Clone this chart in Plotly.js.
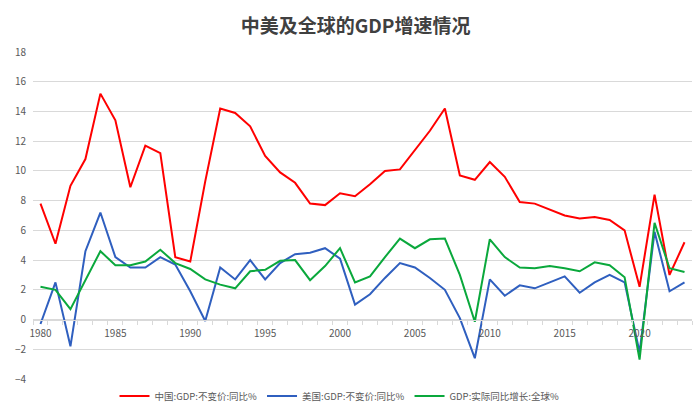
<!DOCTYPE html>
<html>
<head>
<meta charset="utf-8">
<script src="https://cdn.plot.ly/plotly-3.0.1.min.js"></script>
<style>
  html, body { margin: 0; padding: 0; background: #ffffff; }
  #chart { width: 700px; height: 413px; }
</style>
</head>
<body>
<div id="chart"></div>
<script>
// 中美及全球 GDP 增速
const years = [];
for (let y = 1980; y <= 2023; y++) years.push(y);

const chinaGdp = [7.8, 5.1, 9.0, 10.8, 15.2, 13.4, 8.9, 11.7, 11.2, 4.2,
  3.9, 9.3, 14.2, 13.9, 13.0, 11.0, 9.9, 9.2, 7.8, 7.7,
  8.5, 8.3, 9.1, 10.0, 10.1, 11.4, 12.7, 14.2, 9.7, 9.4,
  10.6, 9.6, 7.9, 7.8, 7.4, 7.0, 6.8, 6.9, 6.7, 6.0,
  2.2, 8.4, 3.0, 5.2];

const usGdp = [-0.3, 2.5, -1.8, 4.6, 7.2, 4.2, 3.5, 3.5, 4.2, 3.7,
  1.9, -0.1, 3.5, 2.7, 4.0, 2.7, 3.8, 4.4, 4.5, 4.8,
  4.1, 1.0, 1.7, 2.8, 3.8, 3.5, 2.8, 2.0, 0.1, -2.6,
  2.7, 1.6, 2.3, 2.1, 2.5, 2.9, 1.8, 2.5, 3.0, 2.5,
  -2.2, 5.9, 1.9, 2.5];

const worldGdp = [2.2, 2.0, 0.7, 2.6, 4.6, 3.65, 3.65, 3.9, 4.7, 3.8,
  3.4, 2.7, 2.35, 2.1, 3.25, 3.35, 3.95, 4.0, 2.65, 3.6,
  4.8, 2.5, 2.9, 4.2, 5.45, 4.8, 5.4, 5.45, 3.0, -0.15,
  5.4, 4.2, 3.5, 3.45, 3.6, 3.45, 3.25, 3.85, 3.65, 2.85,
  -2.7, 6.5, 3.45, 3.2];

const seriesNames = ["中国:GDP:不变价:同比%", "美国:GDP:不变价:同比%", "GDP:实际同比增长:全球%"];
const xLabels = [1980, 1985, 1990, 1995, 2000, 2005, 2010, 2015, 2020];

const font = '"Noto Sans CJK SC", "Noto Sans", sans-serif';

const china = {
  x: years, y: chinaGdp, type: "scatter", mode: "lines",
  name: seriesNames[0],
  line: { color: "#ff0000", width: 2 },
};
const us = {
  x: years, y: usGdp, type: "scatter", mode: "lines",
  name: seriesNames[1],
  line: { color: "#2f5fbf", width: 2 },
};
const world = {
  x: years, y: worldGdp, type: "scatter", mode: "lines",
  name: seriesNames[2],
  line: { color: "#0aa83c", width: 2 },
};

const layout = {
  width: 700,
  height: 413,
  margin: { t: 52, l: 33, r: 8, b: 34 },
  paper_bgcolor: "#ffffff",
  plot_bgcolor: "#ffffff",
  font: { family: font, color: "#595959" },
  title: {
    text: "中美及全球的GDP增速情况",
    font: { family: font, size: 19, color: "#404040", weight: "bold" },
    x: 0.508, xanchor: "center",
    y: 0.935, yanchor: "middle",
  },
  showlegend: true,
  legend: {
    orientation: "h",
    xref: "container", yref: "container",
    x: 0.485, xanchor: "center",
    y: 0.041, yanchor: "middle",
    font: { family: font, size: 9.5, color: "#595959" },
    itemwidth: 30,
    tracegroupgap: 0,
  },
  xaxis: {
    range: [1979.5, 2023.5],
    anchor: "free",
    position: 4 / 22, // axis crosses at y = 0
    tickvals: xLabels,
    ticks: "",
    ticklabelstandoff: 4,
    showgrid: false,
    showline: true,
    linecolor: "#d9d9d9",
    linewidth: 1,
    zeroline: false,
    automargin: false,
    tickfont: { family: font, size: 10, color: "#595959" },
    minor: {
      tick0: 1979.5,
      dtick: 1,
      ticks: "outside",
      ticklen: 4,
      tickcolor: "#d9d9d9",
      showgrid: false,
    },
  },
  yaxis: {
    range: [-4, 18],
    dtick: 2,
    showgrid: true,
    gridcolor: "#d9d9d9",
    gridwidth: 1,
    zeroline: false,
    showline: false,
    ticks: "",
    ticklabelstandoff: 6,
    automargin: false,
    tickfont: { family: font, size: 10, color: "#595959" },
  },
  dragmode: false,
};

Plotly.newPlot("chart", [china, us, world], layout, { displayModeBar: false, staticPlot: true });
</script>
</body>
</html>
